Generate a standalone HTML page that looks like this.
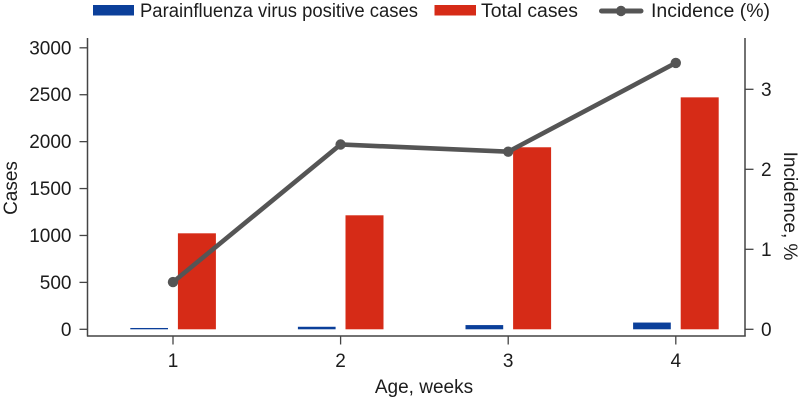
<!DOCTYPE html>
<html>
<head>
<meta charset="utf-8">
<title>Parainfluenza incidence by age</title>
<style>
html,body{margin:0;padding:0;background:#fff;}
svg{display:block;font-family:"Liberation Sans",sans-serif;}
text{fill:#1c1c1c;font-size:19px;}
</style>
</head>
<body>
<svg id="chart" width="800" height="400" viewBox="0 0 800 400" xmlns="http://www.w3.org/2000/svg">
  <g>
    <rect x="93" y="5" width="41" height="10.5" fill="#0b3f9a"/>
    <text x="140" y="17" textLength="278" lengthAdjust="spacingAndGlyphs">Parainfluenza virus positive cases</text>
    <rect x="434.5" y="5" width="41.5" height="10.5" fill="#d62b17"/>
    <text x="481" y="17" textLength="97" lengthAdjust="spacingAndGlyphs">Total cases</text>
    <line x1="601.5" y1="11" x2="641" y2="11" stroke="#555" stroke-width="5" stroke-linecap="round"/>
    <circle cx="621" cy="11" r="5.2" fill="#555"/>
    <text x="651" y="17" textLength="119" lengthAdjust="spacingAndGlyphs">Incidence (%)</text>
  </g>
  <g id="axes"></g>
  <g id="bars"></g>
  <g id="line"></g>
  <text x="424" y="393" text-anchor="middle">Age, weeks</text>
  <text transform="translate(17,188) rotate(-90)" text-anchor="middle">Cases</text>
  <text transform="translate(784,206) rotate(90)" text-anchor="middle">Incidence, %</text>
</svg>
<script>
var weeks = [1, 2, 3, 4];
var positiveCases = [14, 27, 45, 72];
var totalCases = [1023, 1215, 1940, 2472];
var incidence = [0.59, 2.31, 2.22, 3.33];
var leftTicks = [0, 500, 1000, 1500, 2000, 2500, 3000];
var rightTicks = [0, 1, 2, 3];

var NS = 'http://www.w3.org/2000/svg';
var AXIS = '#444';
function xScale(w) { return 173 + (w - 1) * 167.6; }
function yLeft(v) { return 329.3 - v * 0.09383; }
function yRight(v) { return 329.3 - v * 80; }
function mk(parent, tag, attrs, txt) {
  var el = document.createElementNS(NS, tag);
  for (var k in attrs) el.setAttribute(k, attrs[k]);
  if (txt !== undefined) el.textContent = txt;
  parent.appendChild(el);
  return el;
}
var axes = document.getElementById('axes');
var bars = document.getElementById('bars');
var lineG = document.getElementById('line');
var el;

el = mk(axes, 'line', {x1: 87.5, y1: 38, x2: 87.5, y2: 336.5, stroke: AXIS, 'stroke-width': 1.5});


el = mk(axes, 'line', {x1: 745, y1: 38, x2: 745, y2: 336.5, stroke: AXIS, 'stroke-width': 1.5});


el = mk(axes, 'line', {x1: 87, y1: 336, x2: 745.7, y2: 336, stroke: AXIS, 'stroke-width': 1.5});



leftTicks.forEach(function (t) {
  var y = yLeft(t);
  var m = mk(axes, 'line', {x1: 79.5, y1: y, x2: 87.5, y2: y, stroke: AXIS, 'stroke-width': 1.3});
  
  
  var l = mk(axes, 'text', {x: 71.5, y: y + 6.5, 'text-anchor': 'end'}, t);
  
  
});
rightTicks.forEach(function (t) {
  var y = yRight(t);
  var m = mk(axes, 'line', {x1: 745, y1: y, x2: 753.5, y2: y, stroke: AXIS, 'stroke-width': 1.3});
  
  
  var l = mk(axes, 'text', {x: 761, y: y + 6.5}, t);
  
  
});
weeks.forEach(function (w, i) {
  var x = xScale(w);
  var m = mk(axes, 'line', {x1: x, y1: 336, x2: x, y2: 344.5, stroke: AXIS, 'stroke-width': 1.3});
  
  
  var l = mk(axes, 'text', {x: x, y: 367, 'text-anchor': 'middle'}, w);
  
  

  var b = mk(bars, 'rect', {x: x - 42.7, y: yLeft(positiveCases[i]), width: 37.7, height: 329.3 - yLeft(positiveCases[i]), fill: '#0b3f9a'});
  
  
  var r = mk(bars, 'rect', {x: x + 4.9, y: yLeft(totalCases[i]), width: 38, height: 329.3 - yLeft(totalCases[i]), fill: '#d62b17'});
  
  
});

var pts = weeks.map(function (w, i) { return xScale(w) + ',' + yRight(incidence[i]); }).join(' ');
el = mk(lineG, 'polyline', {points: pts, fill: 'none', stroke: '#555', 'stroke-width': 4.6});


weeks.forEach(function (w, i) {
  var c = mk(lineG, 'circle', {cx: xScale(w), cy: yRight(incidence[i]), r: 5.2, fill: '#555'});
  
  
});
</script>
</body>
</html>
